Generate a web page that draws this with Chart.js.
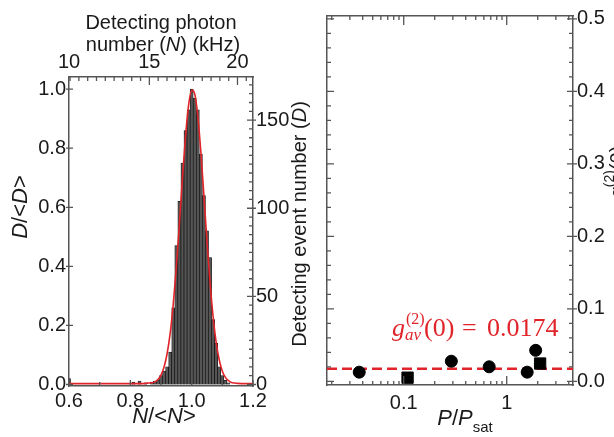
<!DOCTYPE html>
<html>
<head>
<meta charset="utf-8">
<script src="https://cdn.jsdelivr.net/npm/chart.js@4.4.1/dist/chart.umd.min.js"></script>
<style>
  html, body { margin: 0; padding: 0; background: #fff; overflow: hidden; width: 614px; height: 437px; }
  canvas { position: absolute; top: 0; }
  #histo { left: 0; }
  #g2 { left: 310px; }
</style>
</head>
<body>
<canvas id="histo" width="330" height="437"></canvas>
<canvas id="g2" width="320" height="437"></canvas>
<script>
// ---- left panel: histogram of N/<N> ----
const binCenters = [0.60, 0.81, 0.83, 0.85, 0.87, 0.88, 0.89, 0.90, 0.91, 0.92, 0.93, 0.94, 0.95, 0.96, 0.97,
  0.98, 0.99, 1.00, 1.01, 1.02, 1.03, 1.04, 1.05, 1.06, 1.07, 1.08, 1.09, 1.10, 1.11, 1.12];
const binHeights = [0.02, 0.008, 0.012, 0.006, 0.008, 0.012, 0.015, 0.03, 0.045, 0.06, 0.11, 0.26, 0.47, 0.62, 0.75,
  0.86, 0.93, 1.0, 0.97, 0.93, 0.78, 0.64, 0.52, 0.43, 0.22, 0.14, 0.06, 0.03, 0.015, 0.006];
// red fit curve
const fitX = [0.60, 0.80, 0.85, 0.86, 0.87, 0.88, 0.89, 0.90, 0.91, 0.92, 0.93, 0.94, 0.95, 0.96, 0.97, 0.98, 0.99,
  1.00, 1.01, 1.02, 1.03, 1.04, 1.05, 1.06, 1.07, 1.08, 1.09, 1.10, 1.11, 1.12, 1.13, 1.14, 1.15, 1.20];
const fitY = [0.003, 0.003, 0.004, 0.005, 0.006, 0.009, 0.017, 0.032, 0.059, 0.105, 0.174, 0.272, 0.397, 0.544, 0.699,
  0.840, 0.946, 0.997, 0.984, 0.909, 0.787, 0.638, 0.484, 0.344, 0.229, 0.142, 0.083, 0.045, 0.024, 0.013, 0.007,
  0.005, 0.004, 0.003];
const meanRateKHz = 17.4;   // <N>
const meanCounts = 167.6;   // <D>
const histXTicks = [0.6, 0.8, 1.0, 1.2];
const histYTicks = [0, 0.2, 0.4, 0.6, 0.8, 1.0];
const rateTicks = [10, 15, 20];
const countTicks = [0, 50, 100, 150];

// ---- right panel: g2(0) vs P/Psat ----
const powerRatio = [0.037, 0.109, 0.29, 0.676, 1.58, 1.91, 2.11];
const g2Values = [0.0127, 0.0051, 0.0278, 0.0201, 0.0127, 0.0428, 0.0246];
const markerShapes = ['circle', 'rect', 'circle', 'circle', 'circle', 'circle', 'rect'];
const g2Avg = 0.0174;
const powerTicks = [0.1, 1];
const powerMinor = [0.02, 0.03, 0.04, 0.05, 0.06, 0.07, 0.08, 0.09, 0.2, 0.3, 0.4, 0.5, 0.6, 0.7, 0.8, 0.9, 2, 3, 4];
const g2Ticks = [0, 0.1, 0.2, 0.3, 0.4, 0.5];

const SANS = '"Liberation Sans", Arial, sans-serif';
const SERIF = '"Liberation Serif", "Times New Roman", serif';
const RED = '#e0242a';
const AXIS = '#555';

function steps(from, to, step) {
  const out = [];
  for (let v = from; v <= to + 1e-9; v += step) out.push(+v.toFixed(4));
  return out;
}

function drawRich(ctx, runs, x, y, rot) {
  ctx.save();
  ctx.translate(x, y);
  if (rot) { ctx.rotate(rot); ctx.textBaseline = 'middle'; } else ctx.textBaseline = 'alphabetic';
  ctx.fillStyle = '#1a1a1a';
  let w = 0;
  const ws = runs.map(r => { ctx.font = r[1]; const m = ctx.measureText(r[0]).width; w += m; return m; });
  let cx = -w / 2;
  runs.forEach((r, i) => { ctx.font = r[1]; ctx.fillText(r[0], cx, r[2] || 0); cx += ws[i]; });
  ctx.restore();
}

function tickPlugin(marks) {
  return {
    id: 'frameTicks',
    afterDraw(chart) {
      const ctx = chart.ctx, a = chart.chartArea;
      ctx.save();
      ctx.strokeStyle = AXIS;
      ctx.lineWidth = 1.3;
      ctx.beginPath();
      marks.forEach(m => {
        const s = chart.scales[m.scale];
        m.values.forEach(v => {
          const p = s.getPixelForValue(v);
          if (m.edge === 'left') { ctx.moveTo(a.left - m.out, p); ctx.lineTo(a.left + m.in, p); }
          if (m.edge === 'right') { ctx.moveTo(a.right + m.out, p); ctx.lineTo(a.right - m.in, p); }
          if (m.edge === 'top') { ctx.moveTo(p, a.top - m.out); ctx.lineTo(p, a.top + m.in); }
          if (m.edge === 'bottom') { ctx.moveTo(p, a.bottom + m.out); ctx.lineTo(p, a.bottom - m.in); }
        });
      });
      ctx.stroke();
      ctx.restore();
    }
  };
}

function fixed(size, isX) {
  return isX ? s => { s.height = size; } : s => { s.width = size; };
}

const tickFont = { family: SANS, size: 20 };
const f20 = '20px ' + SANS, i20 = 'italic 20px ' + SANS;
const f22 = '22px ' + SANS, i22 = 'italic 22px ' + SANS;

// ---------- left chart ----------
const yMin = -0.005, yMax = 1.041;
new Chart(document.getElementById('histo'), {
  type: 'bar',
  data: {
    datasets: [
      {
        type: 'line',
        data: fitX.map((x, i) => ({ x, y: fitY[i] })),
        borderColor: RED,
        borderWidth: 1.6,
        pointRadius: 0,
        cubicInterpolationMode: 'monotone',
        order: 0
      },
      {
        type: 'bar',
        data: binCenters.map((x, i) => ({ x, y: binHeights[i] })),
        backgroundColor: '#555',
        borderColor: '#111',
        borderWidth: 0.7,
        barPercentage: 1,
        categoryPercentage: 1,
        order: 1
      }
    ]
  },
  options: {
    responsive: false,
    animation: false,
    layout: { padding: 0 },
    plugins: { legend: { display: false }, tooltip: { enabled: false } },
    scales: {
      x: {
        type: 'linear', position: 'bottom', min: 0.6, max: 1.2, offset: false,
        grid: { display: false, drawTicks: false },
        border: { display: true, color: AXIS, width: 1.5 },
        afterBuildTicks: s => { s.ticks = histXTicks.map(v => ({ value: v })); },
        ticks: { font: tickFont, color: '#1a1a1a', padding: 3, maxRotation: 0, autoSkip: false, callback: v => v.toFixed(1) },
        afterFit: fixed(51, true)
      },
      x2: {
        type: 'linear', position: 'top', min: 0.6 * meanRateKHz, max: 1.2 * meanRateKHz, offset: false,
        grid: { display: false, drawTicks: false },
        border: { display: true, color: AXIS, width: 1.5 },
        afterBuildTicks: s => { s.ticks = rateTicks.map(v => ({ value: Math.max(v, s.min) })); },
        ticks: { font: tickFont, color: '#1a1a1a', padding: 3, maxRotation: 0, autoSkip: false, callback: (v, i) => String(rateTicks[i]) },
        afterFit: fixed(77, true)
      },
      y: {
        type: 'linear', position: 'left', min: yMin, max: yMax,
        grid: { display: false, drawTicks: false },
        border: { display: true, color: AXIS, width: 1.5 },
        afterBuildTicks: s => { s.ticks = histYTicks.map(v => ({ value: v })); },
        ticks: { font: tickFont, color: '#1a1a1a', padding: 3, callback: v => v.toFixed(1) },
        afterFit: fixed(69, false)
      },
      y2: {
        type: 'linear', position: 'right', min: yMin * meanCounts, max: yMax * meanCounts,
        grid: { display: false, drawTicks: false },
        border: { display: true, color: AXIS, width: 1.5 },
        afterBuildTicks: s => { s.ticks = countTicks.map(v => ({ value: v })); },
        ticks: { font: tickFont, color: '#1a1a1a', padding: 3, callback: v => String(v) },
        afterFit: fixed(77, false)
      }
    }
  },
  plugins: [
    tickPlugin([
      { scale: 'y', edge: 'left', values: histYTicks, out: 3, in: 4 },
      { scale: 'x', edge: 'bottom', values: histXTicks, out: 0, in: 6 },
      { scale: 'x', edge: 'bottom', values: [0.7, 0.9, 1.1], out: 0, in: 4 },
      { scale: 'x2', edge: 'top', values: steps(10.5, 20.5, 0.5), out: 0, in: 4 },
      { scale: 'x2', edge: 'top', values: [15, 20], out: 0, in: 8 },
      { scale: 'y2', edge: 'right', values: steps(5, 170, 5), out: 0, in: 4 },
      { scale: 'y2', edge: 'right', values: countTicks, out: 3, in: 6 }
    ]),
    {
      id: 'titlesLeft',
      afterDraw(chart) {
        const ctx = chart.ctx;
        drawRich(ctx, [['Detecting photon', f20]], 161, 29);
        drawRich(ctx, [['number (', f20], ['N', i20], [') (kHz)', f20]], 163, 51);
        drawRich(ctx, [['N', i22], ['/<', f22], ['N', i22], ['>', f22]], 164, 423);
        drawRich(ctx, [['D', i22], ['/<', f22], ['D', i22], ['>', f22]], 21, 207, -Math.PI / 2);
        drawRich(ctx, [['Detecting event number (', f20], ['D', i20], [')', f20]], 300, 224, -Math.PI / 2);
      }
    }
  ]
});

// ---------- right chart ----------
const pMin = 0.018, pMax = 4.4;
const gMin = -0.005, gMax = 0.504;
new Chart(document.getElementById('g2'), {
  type: 'scatter',
  data: {
    datasets: [
      {
        data: powerRatio.map((x, i) => ({ x, y: g2Values[i] })),
        backgroundColor: '#000',
        borderColor: '#000',
        pointStyle: markerShapes,
        pointRadius: markerShapes.map(s => s === 'rect' ? 8 : 6),
        clip: false,
        order: 0
      },
      {
        type: 'line',
        showLine: true,
        data: [{ x: pMin, y: g2Avg }, { x: pMax, y: g2Avg }],
        borderColor: RED,
        borderWidth: 2.5,
        borderDash: [10, 5],
        pointRadius: 0,
        order: 1
      }
    ]
  },
  options: {
    responsive: false,
    animation: false,
    layout: { padding: 0 },
    plugins: { legend: { display: false }, tooltip: { enabled: false } },
    scales: {
      x: {
        type: 'logarithmic', position: 'bottom', min: pMin, max: pMax,
        grid: { display: false, drawTicks: false },
        border: { display: true, color: AXIS, width: 1.5 },
        afterBuildTicks: s => { s.ticks = powerTicks.map(v => ({ value: v })); },
        ticks: { font: tickFont, color: '#1a1a1a', padding: 6, maxRotation: 0, autoSkip: false, callback: (v, i) => String(powerTicks[i]) },
        afterFit: fixed(52, true)
      },
      xt: {
        type: 'logarithmic', position: 'top', min: pMin, max: pMax,
        grid: { display: false, drawTicks: false },
        border: { display: true, color: AXIS, width: 1.5 },
        ticks: { display: false },
        afterFit: fixed(14, true)
      },
      y: {
        type: 'linear', position: 'right', min: gMin, max: gMax,
        grid: { display: false, drawTicks: false },
        border: { display: true, color: AXIS, width: 1.5 },
        afterBuildTicks: s => { s.ticks = g2Ticks.map(v => ({ value: v })); },
        ticks: { font: tickFont, color: '#1a1a1a', padding: 4, callback: v => v.toFixed(1) },
        afterFit: fixed(57, false)
      },
      yl: {
        type: 'linear', position: 'left', min: gMin, max: gMax,
        grid: { display: false, drawTicks: false },
        border: { display: true, color: AXIS, width: 1.5 },
        ticks: { display: false },
        afterFit: fixed(17, false)
      }
    }
  },
  plugins: [
    tickPlugin([
      { scale: 'x', edge: 'bottom', values: powerMinor, out: 0, in: 4 },
      { scale: 'x', edge: 'bottom', values: powerTicks, out: 0, in: 9 },
      { scale: 'x', edge: 'top', values: powerMinor, out: 0, in: 4 },
      { scale: 'x', edge: 'top', values: powerTicks, out: 0, in: 9 },
      { scale: 'y', edge: 'right', values: steps(0.02, 0.48, 0.02), out: 0, in: 4 },
      { scale: 'y', edge: 'right', values: g2Ticks, out: 4, in: 6 },
      { scale: 'y', edge: 'left', values: steps(0.02, 0.48, 0.02), out: 0, in: 4 },
      { scale: 'y', edge: 'left', values: g2Ticks, out: 0, in: 7 }
    ]),
    {
      id: 'titlesRight',
      afterDraw(chart) {
        const ctx = chart.ctx, a = chart.chartArea;
        drawRich(ctx, [['P', i22], ['/', f22], ['P', i22], ['sat', '15px ' + SANS, 7]], 155, 425);
        drawRich(ctx, [['g', i20], ['(2)', '14px ' + SANS, -8], ['(0)', f20]], 308, 172, -Math.PI / 2);
        // average g2 label, placed above the dashed line
        const base = chart.scales.y.getPixelForValue(g2Avg) - 33;
        const x0 = a.left + 65;
        ctx.save();
        ctx.fillStyle = RED;
        ctx.textBaseline = 'alphabetic';
        ctx.font = 'italic 26px ' + SERIF; ctx.fillText('g', x0, base);
        ctx.font = '16px ' + SERIF; ctx.fillText('(2)', x0 + 14, base - 12);
        ctx.font = 'italic 17px ' + SERIF; ctx.fillText('av', x0 + 13, base + 4);
        ctx.font = '26px ' + SERIF;
        ctx.fillText('(0)', x0 + 32, base);
        ctx.fillText('=', x0 + 70, base);
        ctx.fillText(g2Avg.toFixed(4), x0 + 95, base);
        ctx.restore();
      }
    }
  ]
});
</script>
</body>
</html>
